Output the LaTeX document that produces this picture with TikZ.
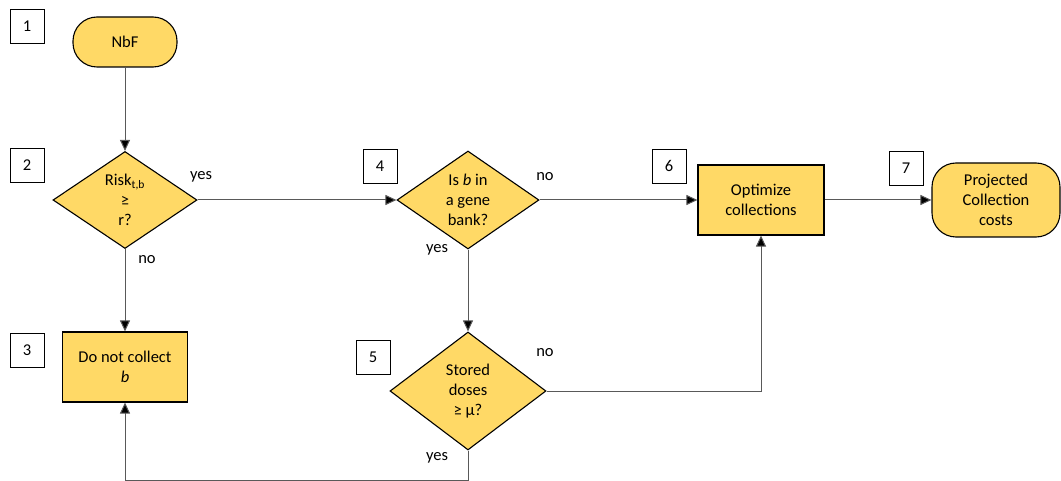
\documentclass[tikz,border=0pt]{standalone}
\usepackage{fontspec}
\setmainfont{Carlito}
\usetikzlibrary{positioning, arrows.meta, shapes.geometric}
\definecolor{gold}{HTML}{FFD966}
\definecolor{wire}{HTML}{595959}

\begin{document}
\begin{tikzpicture}[x=1pt, y=-1pt,
    every node/.style={font=\fontsize{16.5}{20}\selectfont, align=center},
    term/.style={draw, line width=1.1pt, fill=gold, rounded corners=24pt, inner sep=0pt},
    proc/.style={draw, line width=1.1pt, fill=gold, inner sep=0pt},
    decide/.style={draw, line width=1.1pt, fill=gold, diamond, inner sep=0pt, shape aspect=1.4},
    numbox/.style={draw, line width=0.8pt, minimum size=34pt, inner sep=0pt},
    flow/.style={draw=wire, line width=1pt, -{Triangle[length=11pt, width=10pt, fill=black]}},
    lbl/.style={inner sep=0pt}]
    \useasboundingbox (0,0) rectangle (1061,481);

    % Schritte
    \node[term, minimum width=104pt, minimum height=50pt] (nbf) at (125,42) {NbF};
    \node[decide, minimum width=144pt, minimum height=97pt] (risk) at (125,200)
      {Risk\textsubscript{t,b}\\≥\\r?};
    \node[proc, minimum width=125pt, minimum height=70pt] (skip) at (125,367)
      {Do not collect\\\textit{b}};
    \node[decide, minimum width=142pt, minimum height=98pt] (bank) at (468,200)
      {Is \textit{b} in\\a gene\\bank?};
    \node[decide, minimum width=156pt, minimum height=118pt] (doses) at (468,391)
      {Stored\\doses\\≥ μ?};
    \node[proc, minimum width=126pt, minimum height=70pt] (opt) at (761,200)
      {Optimize\\collections};
    \node[term, minimum width=128pt, minimum height=74pt] (proj) at (996,200)
      {Projected\\Collection\\costs};

    % Nummern
    \node[numbox] (n1) at (27,26) {1};
    \node[numbox] (n2) at (27,165) {2};
    \node[numbox] (n3) at (27,350) {3};
    \node[numbox] (n4) at (380,166) {4};
    \node[numbox] (n5) at (373,357) {5};
    \node[numbox] (n6) at (669,166) {6};
    \node[numbox] (n7) at (906,168) {7};

    % Verbindungen
    \coordinate (low) at (468,480);
    \draw[flow] (nbf) -- (risk);
    \draw[flow] (risk.south) -- (skip.north);
    \draw[flow] (risk.east) -- (bank.west);
    \draw[flow] (bank.east) -- (opt.west);
    \draw[flow] (bank.south) -- (doses.north);
    \draw[flow] (opt.east) -- (proj.west);
    \draw[flow] (doses.east) -| (opt.south);
    \draw[flow] (doses.south) -- (low) -| (skip.south);

    \node[lbl] (yes1) at (201,177) {yes};
    \node[lbl] (no1)  at (147,260) {no};
    \node[lbl] (no4)  at (545,177) {no};
    \node[lbl] (yes4) at (437,250) {yes};
    \node[lbl] (no5)  at (545,353) {no};
    \node[lbl] (yes5) at (437,458) {yes};
  \end{tikzpicture}
\end{document}
